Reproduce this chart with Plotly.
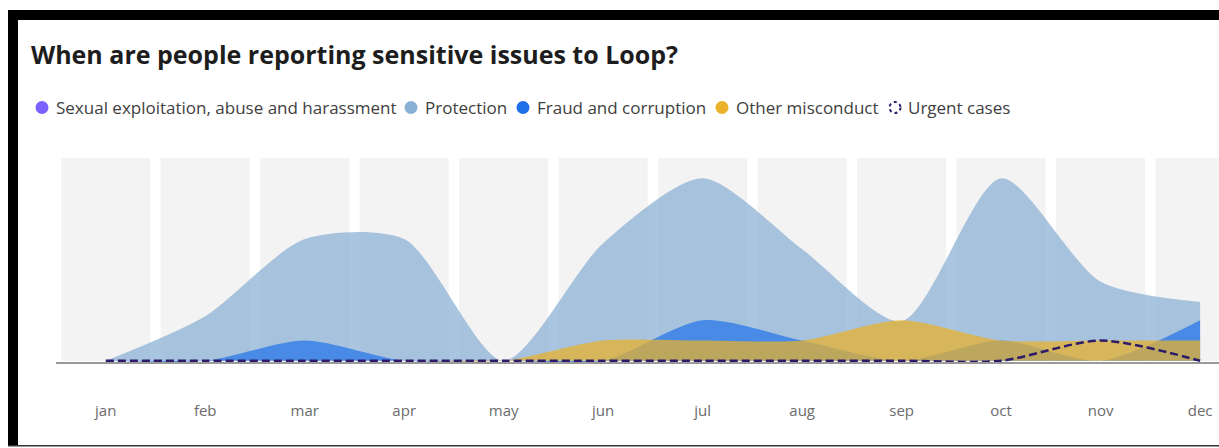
import plotly.graph_objects as go

# ---- data -------------------------------------------------------------
months = ["jan", "feb", "mar", "apr", "may", "jun",
          "jul", "aug", "sep", "oct", "nov", "dec"]

sexual_exploitation = [0, 0, 0, 0, 0, 0, 0, 0, 0, 0, 0, 0]
protection = [0, 2.2, 6, 6, 0, 5.8, 9, 5.5, 1.95, 9, 3.9, 2.9]
fraud = [0, 0, 1, 0, 0, 0, 2, 1, 0, 1, 0, 2]
other_misconduct = [0, 0, 0, 0, 0, 1, 1, 1, 2, 1, 1, 1]
urgent_cases = [0, 0, 0, 0, 0, 0, 0, 0, 0, 0, 1, 0]

Y_MAX = 10

# ---- canvas geometry (pixels) ----------------------------------------
W, H = 1219, 448
L, R, T, B = 56, 0, 158, 86
PW, PH = W - L - R, H - T - B


def px(x):
    """pixel column -> paper x"""
    return (x - L) / PW


def py(y):
    """pixel row -> paper y"""
    return (H - B - y) / PH


FONT = "Open Sans"
SMOOTH = 0.75

fig = go.Figure()

# month background columns
fig.add_trace(go.Bar(
    x=months, y=[Y_MAX] * len(months), width=0.895,
    marker=dict(color="#f3f3f3", line=dict(width=0)),
    hoverinfo="skip", showlegend=False,
))

areas = [
    ("Sexual exploitation, abuse and harassment", sexual_exploitation, "rgba(123,97,255,0.7)"),
    ("Protection", protection, "rgba(141,177,212,0.75)"),
    ("Fraud and corruption", fraud, "rgba(26,111,232,0.67)"),
    ("Other misconduct", other_misconduct, "rgba(234,178,42,0.72)"),
]
for name, vals, col in areas:
    fig.add_trace(go.Scatter(
        x=months, y=vals, name=name, mode="lines",
        line=dict(width=0, shape="spline", smoothing=SMOOTH, color=col),
        fill="tozeroy", fillcolor=col, showlegend=False,
    ))

fig.add_trace(go.Scatter(
    x=months, y=urgent_cases, name="Urgent cases", mode="lines",
    line=dict(color="#2d1b69", width=2.5, dash="8px,4px",
              shape="spline", smoothing=SMOOTH),
    showlegend=False,
))

# ---- legend (drawn by hand: filled dots + dotted ring) ---------------
legend_items = [
    ("Sexual exploitation, abuse and harassment", 42, 56, "#7b61ff", False),
    ("Protection", 411, 425, "#8ab0d6", False),
    ("Fraud and corruption", 523, 537, "#1f6fe8", False),
    ("Other misconduct", 722, 736, "#ebb22a", False),
    ("Urgent cases", 895, 908, "#2d1b69", True),
]
LEG_Y = 107.5
shapes = []
annotations = []
for label, cx, tx, col, ring in legend_items:
    r = 6.5 if not ring else 5.5
    shapes.append(dict(
        type="circle", xref="paper", yref="paper",
        x0=px(cx - r), x1=px(cx + r), y0=py(LEG_Y + r), y1=py(LEG_Y - r),
        fillcolor="rgba(0,0,0,0)" if ring else col,
        line=dict(color=col, width=2 if ring else 0, dash="dot" if ring else "solid"),
    ))
    annotations.append(dict(
        text=label, xref="paper", yref="paper", x=px(tx - 2), y=py(LEG_Y),
        xanchor="left", yanchor="middle", showarrow=False,
        font=dict(family=FONT, size=17, color="#404040"),
    ))

annotations.append(dict(
    text="<b>When are people reporting sensitive issues to Loop?</b>",
    xref="paper", yref="paper", x=px(29), y=py(54),
    xanchor="left", yanchor="middle", showarrow=False,
    font=dict(family=FONT, size=25, color="#1d1d1d"),
))

# ---- outer frame -----------------------------------------------------
frame = [
    (8, 10, W, 20, "#000000"),
    (8, 10, 18, 446, "#000000"),
    (8, 445, W, 446.5, "#333333"),
]
for x0, y0, x1, y1, col in frame:
    shapes.append(dict(
        type="rect", xref="paper", yref="paper",
        x0=px(x0), x1=px(x1), y0=py(y1), y1=py(y0),
        fillcolor=col, line=dict(width=0), layer="above",
    ))

fig.update_layout(
    width=W, height=H,
    margin=dict(l=L, r=R, t=T, b=B),
    paper_bgcolor="white", plot_bgcolor="white",
    barmode="overlay",
    showlegend=False,
    shapes=shapes, annotations=annotations,
    font=dict(family=FONT),
    xaxis=dict(
        type="category", range=[-0.5, 11.19],
        showgrid=False, zeroline=False,
        showline=True, linecolor="#9a9a9a", linewidth=2,
        ticks="outside", ticklen=34, tickcolor="rgba(0,0,0,0)",
        tickfont=dict(family=FONT, size=15, color="#6b6b6b"),
        layer="below traces", fixedrange=True,
    ),
    yaxis=dict(
        range=[-0.06, Y_MAX], visible=False, fixedrange=True,
    ),
)

fig.write_html("out.html")
